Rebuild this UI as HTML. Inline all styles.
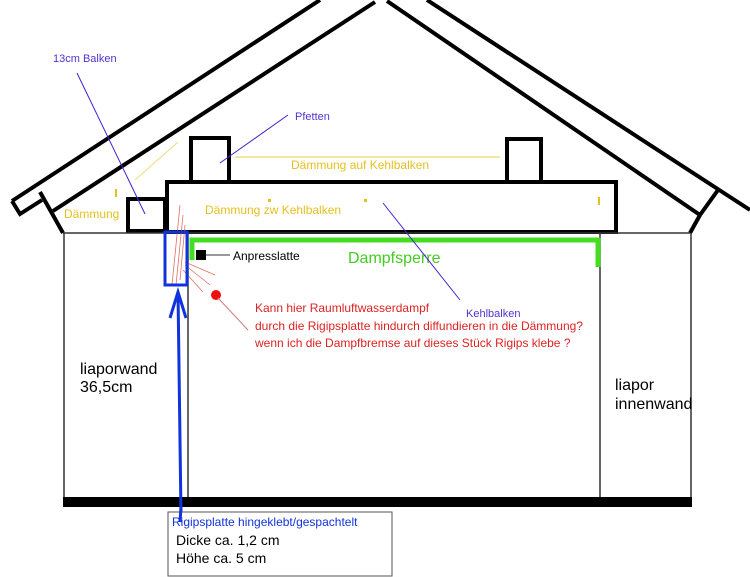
<!DOCTYPE html>
<html><head><meta charset="utf-8"><style>
html,body{margin:0;padding:0;background:#fff}
svg{display:block}
text{font-family:"Liberation Sans",sans-serif}
</style></head><body>
<svg width="750" height="577" viewBox="0 0 750 577" xmlns="http://www.w3.org/2000/svg">
<g stroke="#000" stroke-width="4" fill="none">
<line x1="12" y1="201" x2="320" y2="0"/>
<line x1="53" y1="211" x2="375" y2="2"/>
<polyline points="12,201 20,214 42,200"/>
<line x1="40" y1="192" x2="63" y2="233"/>
<line x1="427" y1="0" x2="750" y2="210"/>
<line x1="387" y1="1" x2="700" y2="215"/>
<line x1="700" y1="215" x2="718" y2="190"/>
<line x1="700" y1="215" x2="690" y2="233"/>
<rect x="167" y="182" width="449" height="50"/>
<rect x="128" y="199" width="37" height="32"/>
<rect x="191" y="138" width="38" height="44"/>
<rect x="507" y="139" width="34" height="43"/>
</g>
<g stroke="#333" stroke-width="1.5" fill="none">
<line x1="63" y1="233" x2="690" y2="233"/>
<line x1="64" y1="233" x2="64" y2="500"/>
<line x1="188" y1="233" x2="188" y2="500"/>
<line x1="600" y1="233" x2="600" y2="500"/>
<line x1="691" y1="233" x2="691" y2="500"/>
</g>
<rect x="63" y="497" width="629" height="10" fill="#000"/>
<line x1="235" y1="157" x2="500" y2="157" stroke="#e8d040" stroke-width="1"/>
<line x1="135" y1="180" x2="178" y2="142" stroke="#eedd80" stroke-width="1"/>
<text x="291" y="169" font-size="12" fill="#e5c020">Dämmung auf Kehlbalken</text>
<text x="205" y="214" font-size="12" fill="#e5c020">Dämmung  zw Kehlbalken</text>
<text x="64" y="218" font-size="12" fill="#e5c020">Dämmung</text>
<g fill="#e5c020"><rect x="115" y="189" width="2" height="8"/><rect x="268" y="199" width="3" height="3"/><rect x="364" y="199" width="3" height="3"/><rect x="598" y="197" width="2" height="8"/></g>
<polyline points="192,260 192,240 598,240 598,267" fill="none" stroke="#44dd22" stroke-width="5"/>
<text x="348" y="263" font-size="16" fill="#44cc22">Dampfsperre</text>
<rect x="196" y="250" width="10" height="10" fill="#000"/>
<line x1="206" y1="255" x2="230" y2="255" stroke="#333"/>
<text x="233" y="260" font-size="12" fill="#000">Anpresslatte</text>
<g stroke="#e07060" stroke-width="0.8" fill="none">
<line x1="172" y1="285" x2="180" y2="205"/><line x1="176" y1="285" x2="183" y2="215"/><line x1="180" y1="280" x2="185" y2="225"/>
<line x1="185" y1="262" x2="215" y2="275"/><line x1="185" y1="265" x2="210" y2="285"/><line x1="183" y1="270" x2="203" y2="292"/>
</g>
<circle cx="216" cy="295" r="5" fill="#ee1111"/>
<line x1="218" y1="298" x2="248" y2="330" stroke="#d08080"/>
<g font-size="12" fill="#dd2222">
<text x="255" y="312">Kann hier Raumluftwasserdampf</text>
<text x="255" y="330">durch die Rigipsplatte hindurch diffundieren in die Dämmung?</text>
<text x="255" y="347">wenn ich die Dampfbremse auf dieses Stück Rigips klebe ?</text>
</g>
<rect x="165" y="232" width="22" height="53" fill="none" stroke="#1133dd" stroke-width="3"/>
<line x1="181" y1="515" x2="178" y2="292" stroke="#1133dd" stroke-width="3"/>
<polyline points="170,318 178,292 186,318" fill="none" stroke="#1133dd" stroke-width="3"/>
<g stroke="#4422cc" stroke-width="1">
<line x1="77" y1="73" x2="145" y2="214"/>
<line x1="220" y1="163" x2="288" y2="115"/>
<line x1="383" y1="203" x2="460" y2="300"/>
</g>
<g font-size="11" fill="#5533cc">
<text x="53" y="62">13cm Balken</text>
<text x="295" y="120">Pfetten</text>
<text x="466" y="317">Kehlbalken</text>
</g>
<g font-size="16" fill="#000">
<text x="80" y="374">liaporwand</text>
<text x="80" y="392">36,5cm</text>
<text x="615" y="390">liapor</text>
<text x="615" y="409">innenwand</text>
</g>
<rect x="168" y="512" width="224" height="64" fill="#fff" stroke="#555" stroke-width="1"/>
<line x1="181" y1="507" x2="180" y2="522" stroke="#1133dd" stroke-width="3"/>
<text x="172" y="526" font-size="12" fill="#1133dd">Rigipsplatte hingeklebt/gespachtelt</text>
<text x="176" y="545" font-size="14" fill="#000">Dicke ca. 1,2 cm</text>
<text x="176" y="563" font-size="14" fill="#000">Höhe ca. 5 cm</text>
</svg>
</body></html>
